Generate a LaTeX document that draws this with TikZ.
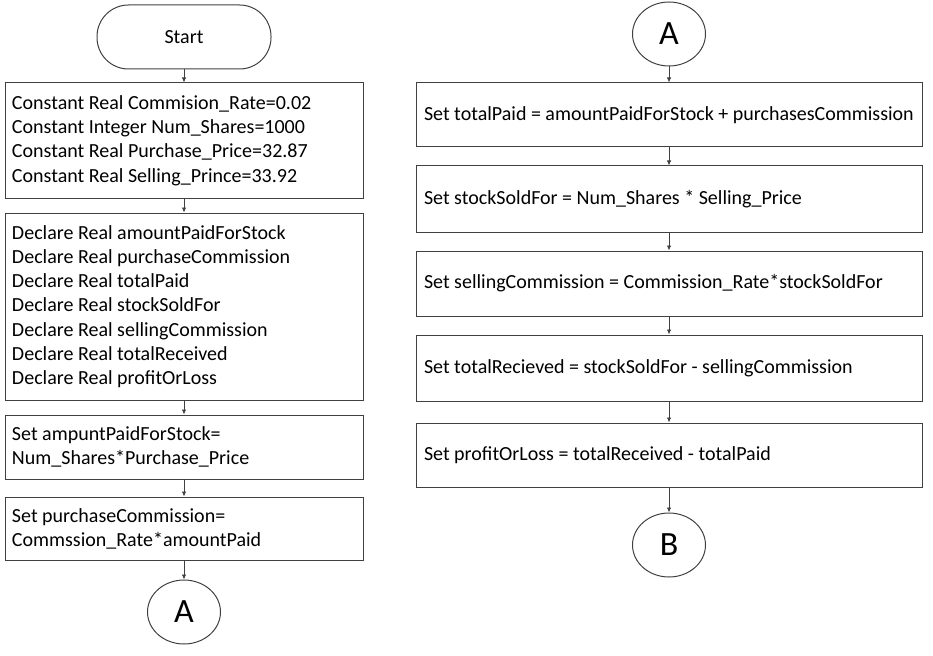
\documentclass[tikz,border=0pt]{standalone}
\usepackage{fontspec}
\setmainfont{Carlito}
\usetikzlibrary{arrows.meta,shapes.geometric}
\definecolor{linecol}{RGB}{64,64,64}
\newcommand{\txtfont}{\fontsize{20}{24.2}\selectfont}
\begin{document}
\begin{tikzpicture}[x=1pt,y=-1pt,
  every node/.style={font=\txtfont},
  lbox/.style={draw=linecol,line width=1pt,minimum width=358pt,text width=344pt,inner xsep=7pt,align=flush left},
  rbox/.style={draw=linecol,line width=1pt,minimum width=506pt,text width=490pt,inner xsep=8pt,align=flush left},
  conn/.style={draw=linecol,line width=1pt,ellipse,minimum width=73pt,minimum height=64pt,inner sep=0pt,font={\fontsize{34}{40}\selectfont}},
  flow/.style={draw=linecol,line width=0.8pt,-{Latex[length=5pt,width=4.5pt]}}
]
\useasboundingbox (0,0) rectangle (933,655);
\node[draw=linecol,line width=1pt,rounded corners=31.5pt,minimum width=174pt,minimum height=64pt] (start) at (184,37) {Start};
\node[lbox,minimum height=115pt] (b1) at (184,140.5) {Constant Real Commision\_Rate=0.02\\Constant Integer Num\_Shares=1000\\Constant Real Purchase\_Price=32.87\\Constant Real Selling\_Prince=33.92};
\node[lbox,minimum height=187pt] (b2) at (184,306.5) {Declare Real amountPaidForStock\\Declare Real purchaseCommission\\Declare Real totalPaid\\Declare Real stockSoldFor\\Declare Real sellingCommission\\Declare Real totalReceived\\Declare Real profitOrLoss};
\node[lbox,minimum height=64pt] (b3) at (184,447) {Set ampuntPaidForStock=\\Num\_Shares*Purchase\_Price};
\node[lbox,minimum height=63pt] (b4) at (184,528.5) {Set purchaseCommission=\\Commssion\_Rate*amountPaid};
\node[conn] (a1) at (184,612) {A};
\node[conn] (a2) at (669,34) {A};
\node[rbox,minimum height=64pt] (r1) at (669,115) {Set totalPaid = amountPaidForStock + purchasesCommission};
\node[rbox,minimum height=66pt] (r2) at (669,199) {Set stockSoldFor = Num\_Shares * Selling\_Price};
\node[rbox,minimum height=65pt] (r3) at (669,283.5) {Set sellingCommission = Commission\_Rate*stockSoldFor};
\node[rbox,minimum height=66pt] (r4) at (669,368) {Set totalRecieved = stockSoldFor - sellingCommission};
\node[rbox,minimum height=64pt] (r5) at (669,455) {Set profitOrLoss = totalReceived - totalPaid};
\node[conn] (bb) at (669,545) {B};
\draw[flow] (start) -- (b1);
\draw[flow] (b1) -- (b2);
\draw[flow] (b2) -- (b3);
\draw[flow] (b3) -- (b4);
\draw[flow] (b4) -- (a1);
\draw[flow] (a2) -- (r1);
\draw[flow] (r1) -- (r2);
\draw[flow] (r2) -- (r3);
\draw[flow] (r3) -- (r4);
\draw[flow] (r4) -- (r5);
\draw[flow] (r5) -- (bb);
\end{tikzpicture}
\end{document}
